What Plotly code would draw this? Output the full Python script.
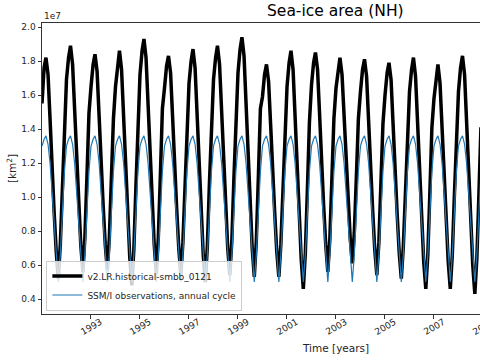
import pandas as pd
import plotly.graph_objects as go

# ---- data (units of 1e7 km^2), monthly, Jan..Dec ----
years = list(range(1991, 2009))
model_area = [
    [1.55, 1.76, 1.82, 1.72, 1.46, 1.14, 0.91, 0.68, 0.52, 0.72, 1.07, 1.43],  # 1991
    [1.69, 1.82, 1.89, 1.78, 1.52, 1.20, 0.96, 0.72, 0.56, 0.76, 1.12, 1.49],  # 1992
    [1.65, 1.78, 1.84, 1.74, 1.48, 1.18, 0.95, 0.72, 0.57, 0.76, 1.10, 1.46],  # 1993
    [1.65, 1.79, 1.86, 1.75, 1.47, 1.14, 0.89, 0.65, 0.48, 0.69, 1.06, 1.45],  # 1994
    [1.72, 1.86, 1.93, 1.82, 1.54, 1.21, 0.96, 0.72, 0.55, 0.76, 1.13, 1.52],  # 1995
    [1.64, 1.77, 1.83, 1.73, 1.47, 1.16, 0.93, 0.70, 0.54, 0.73, 1.08, 1.44],  # 1996
    [1.67, 1.80, 1.87, 1.76, 1.49, 1.16, 0.91, 0.66, 0.50, 0.71, 1.08, 1.46],  # 1997
    [1.69, 1.82, 1.89, 1.78, 1.51, 1.19, 0.95, 0.70, 0.54, 0.74, 1.11, 1.49],  # 1998
    [1.73, 1.87, 1.94, 1.83, 1.55, 1.21, 0.95, 0.70, 0.53, 0.74, 1.12, 1.52],  # 1999
    [1.59, 1.72, 1.78, 1.68, 1.43, 1.13, 0.91, 0.68, 0.53, 0.72, 1.06, 1.41],  # 2000
    [1.65, 1.79, 1.86, 1.75, 1.47, 1.13, 0.88, 0.63, 0.46, 0.67, 1.05, 1.44],  # 2001
    [1.66, 1.79, 1.85, 1.75, 1.49, 1.18, 0.95, 0.72, 0.56, 0.75, 1.10, 1.46],  # 2002
    [1.64, 1.76, 1.82, 1.72, 1.48, 1.19, 0.97, 0.76, 0.61, 0.79, 1.12, 1.46],  # 2003
    [1.62, 1.75, 1.81, 1.71, 1.45, 1.15, 0.92, 0.69, 0.54, 0.73, 1.07, 1.43],  # 2004
    [1.60, 1.73, 1.79, 1.69, 1.43, 1.13, 0.90, 0.67, 0.52, 0.71, 1.05, 1.41],  # 2005
    [1.62, 1.75, 1.82, 1.71, 1.44, 1.11, 0.87, 0.62, 0.46, 0.66, 1.03, 1.41],  # 2006
    [1.58, 1.71, 1.78, 1.67, 1.41, 1.09, 0.86, 0.62, 0.46, 0.66, 1.01, 1.38],  # 2007
    [1.62, 1.76, 1.83, 1.72, 1.44, 1.10, 0.85, 0.60, 0.43, 0.64, 1.02, 1.41],  # 2008
]
obs_cycle = [1.30, 1.34, 1.36, 1.31, 1.20, 1.02, 0.84, 0.64, 0.50, 0.66, 0.92, 1.15]
scale = 1e7

y_ticks = [0.4, 0.6, 0.8, 1.0, 1.2, 1.4, 1.6, 1.8, 2.0]
x_tick_years = [1993, 1995, 1997, 1999, 2001, 2003, 2005, 2007, 2009]

dates = pd.date_range(f"{years[0]}-01-01", periods=12 * len(years), freq="MS") + pd.Timedelta(days=14)
model_y = [v * scale for yr in model_area for v in yr]
obs_y = [v * scale for _ in years for v in obs_cycle]

FONT = "DejaVu Sans"
TXT = "#262626"
PLOT_L, PLOT_T, PLOT_B, PLOT_W = 42, 23, 314, 438
PLOT_H = PLOT_B - PLOT_T
X0, X1 = pd.Timestamp("1991-01-15"), pd.Timestamp("2008-12-01")

fig = go.Figure()
fig.add_trace(go.Scatter(x=dates, y=model_y, mode="lines", name="v2.LR.historical-smbb_0121",
                         line=dict(color="black", width=3.5)))
fig.add_trace(go.Scatter(x=dates, y=obs_y, mode="lines", name="SSM/I observations, annual cycle",
                         line=dict(color="#1f77b4", width=1.2)))

annotations = [
    dict(text="Sea-ice area (NH)", xref="paper", yref="paper", x=(335 - PLOT_L) / PLOT_W, y=1.0,
         xanchor="center", yanchor="bottom", yshift=1, showarrow=False,
         font=dict(family=FONT, size=15.5, color="black")),
    dict(text="Time [years]", xref="paper", yref="paper", x=(335 - PLOT_L) / PLOT_W,
         y=(PLOT_B - 348) / PLOT_H, xanchor="center", yanchor="middle", showarrow=False,
         font=dict(family=FONT, size=10.5, color=TXT)),
    dict(text="1e7", xref="paper", yref="paper", x=0.0, y=1.0, xanchor="left", yanchor="bottom",
         showarrow=False, font=dict(family=FONT, size=9, color=TXT)),
]
for yr in x_tick_years:
    # tick label position in paper units along the date axis (ticks are on Jan 1)
    frac = (pd.Timestamp(f"{yr}-01-01") - X0) / (X1 - X0)
    annotations.append(dict(text=str(yr), xref="paper", yref="paper", x=frac,
                            y=(PLOT_B - 327) / PLOT_H, xanchor="center", yanchor="middle",
                            xshift=1, textangle=-30, showarrow=False,
                            font=dict(family=FONT, size=9, color=TXT)))

fig.update_layout(
    width=480, height=360,
    margin=dict(l=PLOT_L, r=0, t=PLOT_T, b=360 - PLOT_B),
    paper_bgcolor="white", plot_bgcolor="white",
    font=dict(family=FONT, color=TXT, size=9),
    showlegend=True,
    legend=dict(x=0.01, y=0.012, xanchor="left", yanchor="bottom",
                bgcolor="rgba(255,255,255,0.8)", bordercolor="#cccccc", borderwidth=1,
                font=dict(family=FONT, size=9, color=TXT),
                tracegroupgap=0, itemwidth=30),
    xaxis=dict(
        type="date", automargin=False,
        range=[X0, X1],
        tickvals=[f"{y}-01-01" for y in x_tick_years],
        showticklabels=False,
        ticks="outside", ticklen=3.5, tickcolor="#333", tickwidth=1,
        showline=True, linecolor="#333", linewidth=1, mirror=True,
        showgrid=False, zeroline=False,
    ),
    yaxis=dict(
        automargin=False,
        range=[0.312e7, 2.0235e7],
        tickvals=[v * scale for v in y_ticks],
        ticktext=[f"{v:.1f}" for v in y_ticks],
        ticks="outside", ticklen=3.5, tickcolor="#333", tickwidth=1,
        showline=True, linecolor="#333", linewidth=1, mirror=False,
        showgrid=False, zeroline=False,
        tickfont=dict(family=FONT, size=9, color=TXT),
        title=dict(text="[km<sup>2</sup>]", font=dict(family=FONT, size=10.5, color=TXT), standoff=2),
    ),
    annotations=annotations,
)

fig.write_html("out.html", config={"displayModeBar": False},
               post_script="document.body.style.margin='0';")
